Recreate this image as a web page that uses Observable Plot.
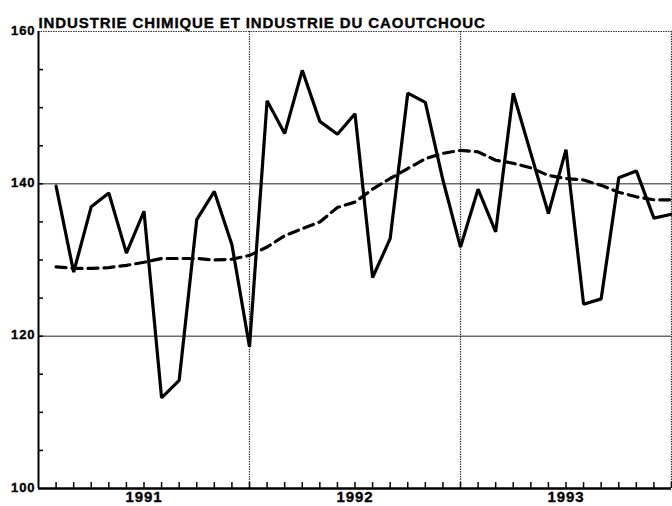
<!DOCTYPE html>
<html>
<head>
<meta charset="utf-8">
<script src="https://cdn.jsdelivr.net/npm/d3@7"></script>
<script src="https://cdn.jsdelivr.net/npm/@observablehq/plot@0.6"></script>
<style>
  html, body { margin: 0; padding: 0; background: #fff; }
  svg { font-family: "Liberation Sans", Arial, sans-serif; }
</style>
</head>
<body>
<div id="chart"></div>
<script>
const title = "INDUSTRIE CHIMIQUE ET INDUSTRIE DU CAOUTCHOUC";
const years = ["1991", "1992", "1993"];
const yLabels = [100, 120, 140, 160];
const yMinorTicks = [105, 110, 115, 120, 125, 130, 135, 140, 145, 150, 155];
const gridValues = [120, 140];
// month index: 1 = Jan 1991 ... 36 = Dec 1993
const months = d3.range(1, 37);
const industrie = [
  139.7, 128.4, 137.0, 138.8, 130.9, 136.4, 111.9, 114.2, 135.3, 139.0, 132.0, 118.6,
  150.9, 146.6, 154.9, 148.2, 146.5, 149.2, 127.7, 132.8, 151.9, 150.7, 140.5, 131.7,
  139.3, 133.7, 151.9, 144.0, 136.1, 144.5, 124.2, 124.9, 140.8, 141.7, 135.5, 136.0
];
const tendance = [
  129.1, 128.9, 128.9, 129.0, 129.3, 129.7, 130.2, 130.2, 130.2, 130.0, 130.1, 130.6,
  131.7, 133.2, 134.1, 135.0, 136.9, 137.6, 139.3, 140.7, 142.0, 143.3, 144.0, 144.4,
  144.2, 143.1, 142.7, 142.1, 141.1, 140.7, 140.5, 139.8, 138.9, 138.3, 137.9, 137.9
];

const serie = months.map((m, i) => ({m, v: industrie[i]}));
const trend = months.map((m, i) => ({m, v: tendance[i]}));
const yearBounds = years.map((y, i) => (i + 1) * 12);
const yearCenters = years.map((y, i) => i * 12 + 6);

const chart = Plot.plot({
  width: 672,
  height: 506,
  marginLeft: 38,
  marginRight: 1,
  marginTop: 31,
  marginBottom: 18,
  style: {background: "#fff", color: "#000", fontFamily: "Liberation Sans, Arial, sans-serif"},
  x: {domain: [0, 36], axis: null},
  y: {domain: [100, 160], axis: null},
  marks: [
    Plot.ruleY(gridValues, {stroke: "#222", strokeWidth: 1}),
    Plot.ruleY([160], {stroke: "#333", strokeWidth: 1.2, strokeDasharray: "1.5,1"}),
    Plot.ruleX(yearBounds, {stroke: "#333", strokeWidth: 1.2, strokeDasharray: "1.5,1"}),
    Plot.tickX(months, {x: d => d, stroke: "#000", strokeWidth: 1.5, insetTop: 451}),
    Plot.tickY(yMinorTicks, {y: d => d, stroke: "#000", strokeWidth: 1.5, insetRight: 628}),
    Plot.ruleX([0], {stroke: "#000", strokeWidth: 2}),
    Plot.ruleY([100], {stroke: "#000", strokeWidth: 2.5}),
    Plot.line(trend, {x: "m", y: "v", stroke: "#000", strokeWidth: 3.2, strokeDasharray: "10,6"}),
    Plot.line(serie, {x: "m", y: "v", stroke: "#000", strokeWidth: 3.2, strokeLinejoin: "miter"}),
    Plot.axisY({ticks: yLabels, tickSize: 0, tickPadding: 3, fontSize: 13, fontWeight: "bold", dy: -1, label: null, tickFormat: d => String(d)}),
    Plot.axisX({ticks: yearCenters, tickSize: 0, tickPadding: 3, fontSize: 15, fontWeight: "bold", label: null, tickFormat: d => years[yearCenters.indexOf(d)]}),
    Plot.text([title], {frameAnchor: "top-left", text: d => d, textAnchor: "start", lineAnchor: "bottom", dy: -4, fontSize: 15, fontWeight: "bold", fill: "#000"})
  ]
});
d3.select(chart).selectAll("text").style("letter-spacing", "0.9px").style("stroke", "#000").style("stroke-width", "0.35px");
document.getElementById("chart").appendChild(chart);
</script>
</body>
</html>
